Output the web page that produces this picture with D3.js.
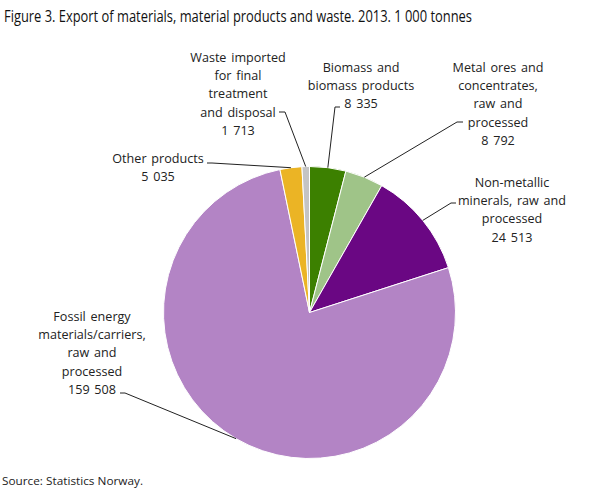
<!DOCTYPE html>
<html><head><meta charset="utf-8">
<script src="https://cdn.jsdelivr.net/npm/d3@7"></script>
<style>body{margin:0;background:#fff}svg{display:block}text{font-family:"Open Sans",sans-serif}</style>
</head><body>
<svg id="c" width="608" height="489"></svg>
<script>
const categories = ["Biomass and biomass products","Metal ores and concentrates, raw and processed","Non-metallic minerals, raw and processed","Fossil energy materials/carriers, raw and processed","Other products","Waste imported for final treatment and disposal"];
const values = [8335, 8792, 24513, 159508, 5035, 1713];
const valueLabels = ["8 335","8 792","24 513","159 508","5 035","1 713"];
const labelLines = [
  ["Biomass and","biomass products"],
  ["Metal ores and","concentrates,","raw and","processed"],
  ["Non-metallic","minerals,  raw and","processed"],
  ["Fossil energy","materials/carriers,","raw and","processed"],
  ["Other products"],
  ["Waste imported","for final","treatment","and disposal"]
];
const colors = ["#3c8000","#9fc488","#6a0783","#b384c5","#ebb425","#c4c4c4"];

// layout (label placement)
const layout = [
  {cx:361, y0:67,  tick:[[335,107],[340,107]]},
  {cx:498, y0:67,  tick:[[457,122],[463,122]]},
  {cx:512, y0:182, tick:[[451,203],[456,203]]},
  {cx:92,  y0:316, tick:[[125,393],[120,393]]},
  {cx:158, y0:158, tick:[[212,163],[207,163]]},
  {cx:238, y0:57,  tick:[[285,112],[279,112]]}
];

const svg = d3.select("#c");
svg.append("text").attr("x",4).attr("y",22).attr("font-size",16).attr("fill","#111")
  .attr("textLength",468).attr("lengthAdjust","spacingAndGlyphs")
  .text("Figure 3. Export of materials, material products and waste. 2013. 1 000 tonnes");
svg.append("text").attr("x",2).attr("y",485).attr("font-size",11.5).attr("fill","#222")
  .attr("textLength",141).attr("lengthAdjust","spacingAndGlyphs")
  .text("Source: Statistics Norway.");

const cx = 309.5, cy = 312.5, r = 146;
const pie = d3.pie().sort(null).value(d=>d);
const arcs = pie(values);
const arc = d3.arc().innerRadius(0).outerRadius(r);
const g = svg.append("g").attr("transform",`translate(${cx},${cy})`);
g.selectAll("path").data(arcs).join("path")
  .attr("d",arc).attr("fill",(d,i)=>colors[i]).attr("stroke","#fff").attr("stroke-width",1);

const lh = 18.4;
arcs.forEach((a,i)=>{
  const m = (a.startAngle+a.endAngle)/2;
  const p = [cx + r*Math.sin(m), cy - r*Math.cos(m)];
  const L = layout[i];
  svg.append("path").attr("fill","none").attr("stroke","#222").attr("stroke-width",1)
    .attr("d", d3.line()([p, L.tick[0], L.tick[1]]));
  const lines = labelLines[i].concat([valueLabels[i]]);
  const t = svg.append("text").attr("text-anchor","middle").attr("font-size",12.6).attr("fill","#222")
    .attr("word-spacing",1.5);
  lines.forEach((s,k)=>{
    t.append("tspan").attr("x",L.cx).attr("y",L.y0 + 4.6 + k*lh).text(s);
  });
});
</script>
</body></html>
